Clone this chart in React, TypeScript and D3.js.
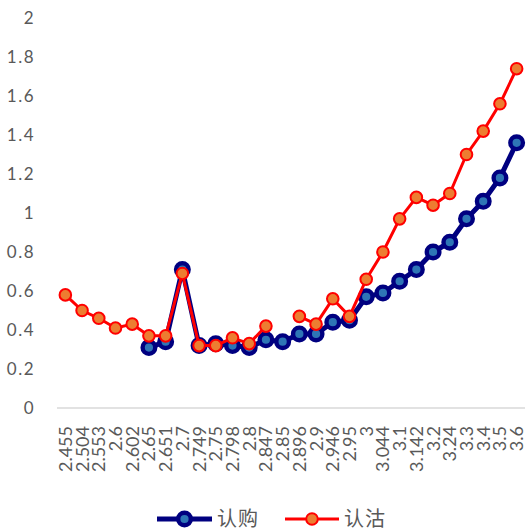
import * as d3 from 'd3';

const strikes = ['2.455','2.504','2.553','2.6','2.602','2.65','2.651','2.7','2.749','2.75','2.798','2.8','2.847','2.85','2.896','2.9','2.946','2.95','3','3.044','3.1','3.142','3.2','3.24','3.3','3.4','3.5','3.6'];
// 认购
const callVals: (number | null)[] = [null, null, null, null, null, 0.31, 0.34, 0.71, 0.32, 0.33, 0.32, 0.31, 0.35, 0.34, 0.38, 0.38, 0.44, 0.45, 0.57, 0.59, 0.65, 0.71, 0.80, 0.85, 0.97, 1.06, 1.18, 1.36];
// 认沽
const putVals: (number | null)[] = [0.58, 0.50, 0.46, 0.41, 0.43, 0.37, 0.37, 0.69, 0.32, 0.32, 0.36, 0.33, 0.42, null, 0.47, 0.43, 0.56, 0.47, 0.66, 0.80, 0.97, 1.08, 1.04, 1.10, 1.30, 1.42, 1.56, 1.74];
const yTicks = [0, 0.2, 0.4, 0.6, 0.8, 1, 1.2, 1.4, 1.6, 1.8, 2];

export default function App() {
  const width = 528;
  const height = 529;
  const left = 57, right = 525, top = 18, bottom = 408;
  const font = 'Lato, "Noto Sans CJK SC", sans-serif';

  const x = d3.scaleBand().domain(strikes).range([left, right]);
  const cx = (s: string) => (x(s) ?? 0) + x.bandwidth() / 2;
  const y = d3.scaleLinear().domain([0, 2]).range([bottom, top]);

  const line = d3.line<number | null>()
    .defined(d => d != null)
    .x((_, i) => cx(strikes[i]))
    .y(d => y(d as number));

  const series = [
    { name: '认购', vals: callVals, stroke: '#000080', lw: 5, fill: '#2e75b6', mr: 6.3, msw: 4.4 },
    { name: '认沽', vals: putVals, stroke: '#ff0000', lw: 3, fill: '#ed7d31', mr: 5.8, msw: 2 },
  ];

  const legend = [
    { s: series[0], x0: 157, x1: 212, tx: 217 },
    { s: series[1], x0: 285, x1: 339, tx: 344 },
  ];

  return (
    <svg width={width} height={height} style={{ position: 'absolute', left: 0, top: 0, background: '#fff' }}>
      {yTicks.map(t => (
        <text key={t} x={35} y={y(t)} dy="0.35em" textAnchor="end" fontFamily={font}
          fontSize={17} letterSpacing={1.5} fill="#595959">{d3.format('~g')(t)}</text>
      ))}
      <line x1={left} x2={right} y1={bottom} y2={bottom} stroke="#d9d9d9" strokeWidth={1.5} />
      {strikes.map(s => (
        <text key={s} transform={`translate(${cx(s)},${bottom + 18}) rotate(-90)`} dy="0.36em"
          textAnchor="end" fontFamily={font} fontSize={18} fill="#595959">{s}</text>
      ))}
      {series.map(sr => (
        <g key={sr.name}>
          <path d={line(sr.vals) ?? ''} fill="none" stroke={sr.stroke} strokeWidth={sr.lw} strokeLinejoin="round" />
          {sr.vals.map((v, i) => v == null ? null : (
            <circle key={i} cx={cx(strikes[i])} cy={y(v)} r={sr.mr} fill={sr.fill} stroke={sr.stroke} strokeWidth={sr.msw} />
          ))}
        </g>
      ))}
      {legend.map(l => (
        <g key={l.s.name}>
          <line x1={l.x0} x2={l.x1} y1={519} y2={519} stroke={l.s.stroke} strokeWidth={l.s.lw} />
          <circle cx={(l.x0 + l.x1) / 2} cy={519} r={l.s.mr} fill={l.s.fill} stroke={l.s.stroke} strokeWidth={l.s.msw} />
          <text x={l.tx} y={519} dy="0.35em" fontFamily={font} fontSize={20} letterSpacing={1} fill="#595959">{l.s.name}</text>
        </g>
      ))}
    </svg>
  );
}
